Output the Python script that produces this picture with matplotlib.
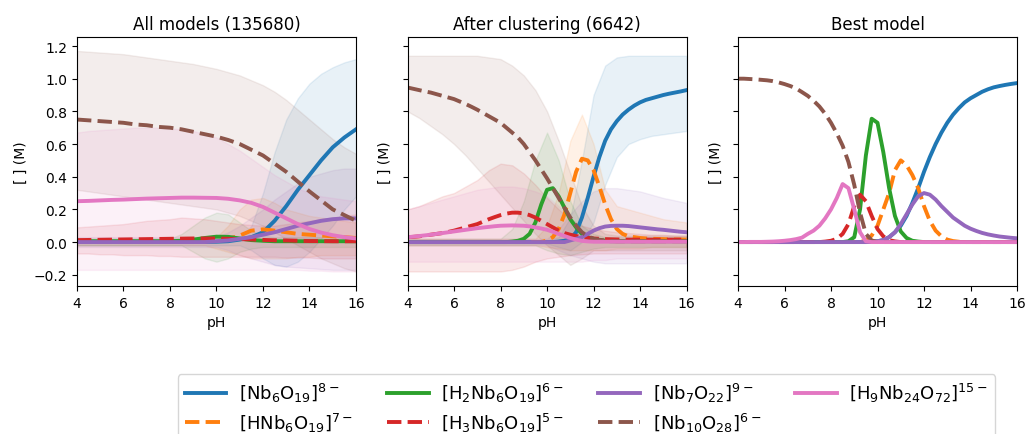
import numpy as np
import matplotlib
matplotlib.use("Agg")
import matplotlib.pyplot as plt

# ─── pH grids ────────────────────────────────────────────────────────────────
PH_COARSE = np.arange(4.0, 16.01, 0.5)    # 25 points
PH_FINE = np.arange(4.0, 16.01, 0.25)     # 49 points

SPECIES = [
    r"$[\mathrm{Nb_6O_{19}}]^{8-}$",
    r"$[\mathrm{HNb_6O_{19}}]^{7-}$",
    r"$[\mathrm{H_2Nb_6O_{19}}]^{6-}$",
    r"$[\mathrm{H_3Nb_6O_{19}}]^{5-}$",
    r"$[\mathrm{Nb_7O_{22}}]^{9-}$",
    r"$[\mathrm{Nb_{10}O_{28}}]^{6-}$",
    r"$[\mathrm{H_9Nb_{24}O_{72}}]^{15-}$",
]
TITLES = ["All models (135680)", "After clustering (6642)", "Best model"]

# ─── All models: mean and spread (coarse grid) ───────────────────────────────
ALL_NB6 = [0, 0, 0, 0, 0, 0, 0, 0, 0, 0, 0, 0.001, 0.002, 0.005, 0.015, 0.03, 0.06,
           0.13, 0.22, 0.32, 0.41, 0.5, 0.58, 0.64, 0.69]
ALL_NB6_LO = [-0.02] * 15 + [-0.05, -0.1, -0.14, -0.15, -0.12, -0.06, 0.02, 0.1, 0.2, 0.28]
ALL_NB6_HI = [0.02] * 15 + [0.1, 0.3, 0.55, 0.75, 0.88, 0.97, 1.03, 1.07, 1.1, 1.12]

ALL_HNB6 = [0, 0, 0, 0, 0, 0, 0, 0, 0, 0, 0.002, 0.005, 0.01, 0.02, 0.04, 0.07, 0.078,
            0.07, 0.06, 0.05, 0.045, 0.04, 0.035, 0.03, 0.025]
ALL_HNB6_LO = [-0.02] * 12 + [-0.04, -0.06, -0.08, -0.1, -0.1, -0.1, -0.1, -0.09, -0.09,
                              -0.08, -0.08, -0.08, -0.08]
ALL_HNB6_HI = [0.01] * 11 + [0.02, 0.03, 0.1, 0.2, 0.26, 0.27, 0.24, 0.2, 0.18, 0.16,
                             0.15, 0.14, 0.13, 0.12]

ALL_H2NB6 = [0.005] * 9 + [0.008, 0.015, 0.025, 0.033, 0.032, 0.022, 0.012, 0.008,
                           0.005, 0.005, 0.005, 0.005, 0.005, 0.005, 0.005, 0.005]
ALL_H2NB6_LO = [-0.02] * 10 + [-0.06, -0.1, -0.12, -0.1, -0.06, -0.04, -0.03, -0.03,
                               -0.03, -0.03, -0.03, -0.03, -0.03, -0.03, -0.03]
ALL_H2NB6_HI = [0.02] * 9 + [0.05, 0.1, 0.15, 0.18, 0.17, 0.12, 0.07, 0.04, 0.03, 0.03,
                             0.03, 0.03, 0.03, 0.03, 0.03, 0.03]

ALL_H3NB6 = [0.012, 0.013, 0.014, 0.015, 0.016, 0.017, 0.018, 0.019, 0.02, 0.021, 0.022,
             0.022, 0.022, 0.02, 0.018, 0.016, 0.013, 0.011, 0.01, 0.008, 0.006, 0.006,
             0.005, 0.005, 0.005]
ALL_H3NB6_LO = [-0.07, -0.07, -0.075, -0.075, -0.08, -0.08, -0.08, -0.085, -0.085, -0.09,
                -0.09, -0.09, -0.09, -0.09, -0.09, -0.09, -0.09, -0.09, -0.095, -0.095,
                -0.095, -0.1, -0.1, -0.1, -0.1]
ALL_H3NB6_HI = [0.09, 0.095, 0.1, 0.105, 0.11, 0.12, 0.13, 0.135, 0.14, 0.15, 0.145, 0.14,
                0.13, 0.12, 0.11, 0.105, 0.1, 0.1, 0.11, 0.12, 0.13, 0.14, 0.15, 0.16, 0.17]

ALL_NB7 = [0] * 12 + [0.005, 0.01, 0.02, 0.03, 0.045, 0.06, 0.08, 0.1, 0.115, 0.13, 0.14,
                      0.145, 0.145]
ALL_NB7_LO = [-0.03] * 13 + [-0.05, -0.08, -0.1, -0.12, -0.14, -0.15, -0.155, -0.16,
                             -0.165, -0.17, -0.17, -0.17]
ALL_NB7_HI = [0.03] * 13 + [0.06, 0.1, 0.15, 0.2, 0.26, 0.31, 0.36, 0.4, 0.42, 0.44,
                            0.45, 0.45]

ALL_NB10 = [0.75, 0.745, 0.74, 0.735, 0.73, 0.72, 0.715, 0.705, 0.7, 0.69, 0.675, 0.66,
            0.645, 0.625, 0.6, 0.565, 0.53, 0.48, 0.43, 0.37, 0.31, 0.255, 0.2, 0.165, 0.13]
ALL_NB10_LO = [0.32, 0.31, 0.3, 0.29, 0.28, 0.27, 0.26, 0.25, 0.24, 0.23, 0.22, 0.21,
               0.2, 0.18, 0.16, 0.13, 0.1, 0.06, 0.02, -0.02, -0.06, -0.1, -0.13, -0.16,
               -0.18]
ALL_NB10_HI = [1.17, 1.165, 1.16, 1.155, 1.15, 1.14, 1.13, 1.12, 1.11, 1.1, 1.09, 1.075,
               1.06, 1.04, 1.02, 0.99, 0.96, 0.92, 0.87, 0.81, 0.75, 0.69, 0.63, 0.58, 0.54]

ALL_H9NB24 = [0.25, 0.252, 0.255, 0.258, 0.26, 0.263, 0.266, 0.268, 0.27, 0.272, 0.272,
              0.271, 0.27, 0.265, 0.255, 0.24, 0.215, 0.18, 0.145, 0.11, 0.08, 0.058,
              0.042, 0.03, 0.022]
ALL_H9NB24_LO = [-0.17] * 20 + [-0.175, -0.175, -0.18, -0.18, -0.18]
ALL_H9NB24_HI = [0.67, 0.68, 0.685, 0.69, 0.695, 0.7, 0.7, 0.7, 0.695, 0.69, 0.68, 0.66,
                 0.64, 0.6, 0.56, 0.51, 0.46, 0.41, 0.37, 0.33, 0.3, 0.28, 0.27, 0.26, 0.25]

# ─── After clustering: mean (fine grid), spread (coarse grid) ────────────────
CL_NB6 = [0] * 26 + [0.003, 0.008, 0.02, 0.06, 0.15, 0.27, 0.4, 0.52, 0.62, 0.69, 0.74,
                     0.78, 0.81, 0.835, 0.855, 0.87, 0.88, 0.89, 0.9, 0.908, 0.915, 0.922,
                     0.93]
CL_NB6_LO = [-0.01] * 13 + [-0.03, -0.05, 0.0, 0.12, 0.35, 0.52, 0.6, 0.63, 0.65, 0.66,
                            0.67, 0.68]
CL_NB6_HI = [0.01] * 13 + [0.03, 0.15, 0.5, 0.9, 1.08, 1.13, 1.14, 1.14, 1.14, 1.14,
                           1.14, 1.14]

CL_HNB6 = [0] * 24 + [0.01, 0.03, 0.08, 0.17, 0.3, 0.43, 0.51, 0.5, 0.44, 0.34, 0.23,
                      0.14, 0.08, 0.05, 0.035, 0.03, 0.025, 0.022, 0.02, 0.019, 0.018,
                      0.017, 0.016, 0.016, 0.015]
CL_HNB6_LO = [-0.02] * 12 + [-0.03, -0.04, -0.05, -0.05, -0.05, -0.05, -0.04, -0.04,
                             -0.04, -0.03, -0.03, -0.03, -0.03]
CL_HNB6_HI = [0.02] * 12 + [0.1, 0.3, 0.62, 0.78, 0.6, 0.32, 0.22, 0.2, 0.18, 0.16, 0.14,
                            0.13, 0.12]

CL_H2NB6 = [0] * 18 + [0.003, 0.008, 0.02, 0.05, 0.12, 0.23, 0.32, 0.33, 0.28, 0.21,
                       0.14, 0.09, 0.05, 0.03, 0.02, 0.012, 0.008] + [0.005] * 14
CL_H2NB6_LO = [-0.02] * 12 + [-0.05, -0.07, -0.08, -0.06, -0.04, -0.03, -0.03, -0.03,
                              -0.03, -0.03, -0.03, -0.03, -0.03]
CL_H2NB6_HI = [0.02] * 9 + [0.08, 0.25, 0.5, 0.67, 0.5, 0.25, 0.1, 0.05, 0.03, 0.03,
                            0.03, 0.03, 0.03, 0.03, 0.03, 0.03]

CL_H3NB6 = [0.03, 0.032, 0.035, 0.04, 0.045, 0.05, 0.055, 0.062, 0.07, 0.08, 0.09, 0.1,
            0.11, 0.125, 0.14, 0.153, 0.165, 0.174, 0.18, 0.18, 0.175, 0.165, 0.15, 0.13,
            0.11, 0.09, 0.07, 0.055, 0.045, 0.037, 0.03, 0.026, 0.022, 0.02, 0.018,
            0.017, 0.016] + [0.015] * 12
CL_H3NB6_LO = [-0.18] * 9 + [-0.17, -0.15, -0.12, -0.1, -0.09, -0.08, -0.075, -0.07,
                             -0.07, -0.07, -0.07, -0.07, -0.07, -0.07, -0.07, -0.07]
CL_H3NB6_HI = [0.2, 0.22, 0.25, 0.28, 0.3, 0.34, 0.38, 0.44, 0.48, 0.47, 0.42, 0.35,
               0.27, 0.2, 0.14, 0.1, 0.08, 0.07, 0.06, 0.055, 0.05, 0.045, 0.045, 0.04,
               0.04]

CL_NB7 = [0] * 28 + [0.01, 0.02, 0.03, 0.05, 0.07, 0.085, 0.095, 0.099, 0.1, 0.1, 0.098,
                     0.094, 0.09, 0.086, 0.082, 0.078, 0.075, 0.071, 0.067, 0.063, 0.06]
CL_NB7_LO = [-0.02] * 13 + [-0.05, -0.08, -0.1, -0.12, -0.13, -0.13, -0.13, -0.13,
                            -0.13, -0.13, -0.13, -0.13]
CL_NB7_HI = [0.02] * 13 + [0.08, 0.17, 0.25, 0.31, 0.33, 0.33, 0.32, 0.31, 0.29, 0.27,
                           0.255, 0.24]

CL_NB10 = [0.946, 0.938, 0.93, 0.922, 0.915, 0.905, 0.895, 0.885, 0.875, 0.86, 0.845,
           0.828, 0.81, 0.79, 0.77, 0.75, 0.73, 0.7, 0.67, 0.64, 0.6, 0.55, 0.5, 0.445,
           0.39, 0.33, 0.27, 0.21, 0.15, 0.1, 0.06, 0.035, 0.02, 0.014, 0.01, 0.007] \
          + [0.005] * 13
CL_NB10_LO = [0.8, 0.76, 0.71, 0.66, 0.6, 0.53, 0.45, 0.37, 0.29, 0.21, 0.13, 0.05, -0.02,
              -0.08, -0.14, -0.1, -0.05, -0.05, -0.05, -0.05, -0.05, -0.05, -0.05, -0.05,
              -0.05]
CL_NB10_HI = [1.14, 1.14, 1.14, 1.14, 1.14, 1.14, 1.14, 1.13, 1.12, 1.08, 1.02, 0.93,
              0.8, 0.62, 0.42, 0.22, 0.1, 0.05, 0.04, 0.04, 0.04, 0.04, 0.04, 0.04, 0.04]

CL_H9NB24 = [0.03, 0.033, 0.037, 0.041, 0.045, 0.05, 0.055, 0.06, 0.065, 0.07, 0.075,
             0.08, 0.085, 0.089, 0.093, 0.097, 0.1, 0.101, 0.102, 0.101, 0.1, 0.096, 0.09,
             0.083, 0.075, 0.063, 0.05, 0.037, 0.025, 0.015, 0.007, 0.004] + [0.002] * 17
CL_H9NB24_LO = [-0.12] * 16 + [-0.11, -0.11, -0.1, -0.1, -0.1, -0.1, -0.1, -0.1, -0.1]
CL_H9NB24_HI = [0.2, 0.22, 0.24, 0.26, 0.28, 0.3, 0.32, 0.33, 0.34, 0.34, 0.33, 0.31,
                0.28, 0.22, 0.15, 0.07, 0.03, 0.02, 0.02, 0.02, 0.02, 0.02, 0.02, 0.02,
                0.02]

# ─── Best model (single curve per species, fine grid) ────────────────────────
BEST_NB6 = [0] * 23 + [0.002, 0.005, 0.012, 0.03, 0.06, 0.1, 0.16, 0.24, 0.33, 0.43,
                       0.52, 0.6, 0.67, 0.73, 0.78, 0.82, 0.855, 0.88, 0.9, 0.92, 0.935,
                       0.947, 0.955, 0.962, 0.968, 0.973]
BEST_HNB6 = [0] * 22 + [0.01, 0.04, 0.1, 0.2, 0.3, 0.44, 0.5, 0.47, 0.41, 0.33, 0.22,
                        0.13, 0.07, 0.035, 0.015, 0.006, 0.002] + [0] * 10
BEST_H2NB6 = [0] * 19 + [0.005, 0.03, 0.2, 0.53, 0.755, 0.73, 0.55, 0.33, 0.16, 0.065,
                         0.025, 0.008, 0.003] + [0] * 17
BEST_H3NB6 = [0] * 15 + [0.003, 0.008, 0.02, 0.05, 0.11, 0.22, 0.29, 0.25, 0.16, 0.08,
                         0.035, 0.012, 0.004] + [0] * 21
BEST_NB7 = [0] * 23 + [0.002, 0.005, 0.012, 0.03, 0.06, 0.11, 0.17, 0.23, 0.28, 0.3,
                       0.29, 0.26, 0.22, 0.185, 0.15, 0.125, 0.1, 0.082, 0.068, 0.056,
                       0.047, 0.04, 0.034, 0.03, 0.026, 0.023]
BEST_NB10 = [1.0, 1.0, 0.998, 0.996, 0.993, 0.99, 0.985, 0.977, 0.967, 0.955, 0.94,
             0.918, 0.895, 0.865, 0.83, 0.785, 0.73, 0.665, 0.59, 0.49, 0.35, 0.18, 0.05,
             0.01] + [0] * 25
BEST_H9NB24 = [0, 0, 0.001, 0.001, 0.001, 0.002, 0.003, 0.005, 0.008, 0.012, 0.018,
               0.027, 0.05, 0.07, 0.1, 0.145, 0.2, 0.27, 0.355, 0.33, 0.2, 0.06, 0.005] \
              + [0] * 26

COLORS = ["tab:blue", "tab:orange", "tab:green", "tab:red",
          "tab:purple", "tab:brown", "tab:pink"]
STYLES = ["-", "--", "-", "--", "-", "--", "-"]

ALL_MEAN = [ALL_NB6, ALL_HNB6, ALL_H2NB6, ALL_H3NB6, ALL_NB7, ALL_NB10, ALL_H9NB24]
ALL_LO = [ALL_NB6_LO, ALL_HNB6_LO, ALL_H2NB6_LO, ALL_H3NB6_LO, ALL_NB7_LO, ALL_NB10_LO,
          ALL_H9NB24_LO]
ALL_HI = [ALL_NB6_HI, ALL_HNB6_HI, ALL_H2NB6_HI, ALL_H3NB6_HI, ALL_NB7_HI, ALL_NB10_HI,
          ALL_H9NB24_HI]
CL_MEAN = [CL_NB6, CL_HNB6, CL_H2NB6, CL_H3NB6, CL_NB7, CL_NB10, CL_H9NB24]
CL_LO = [CL_NB6_LO, CL_HNB6_LO, CL_H2NB6_LO, CL_H3NB6_LO, CL_NB7_LO, CL_NB10_LO,
         CL_H9NB24_LO]
CL_HI = [CL_NB6_HI, CL_HNB6_HI, CL_H2NB6_HI, CL_H3NB6_HI, CL_NB7_HI, CL_NB10_HI,
         CL_H9NB24_HI]
BEST = [BEST_NB6, BEST_HNB6, BEST_H2NB6, BEST_H3NB6, BEST_NB7, BEST_NB10, BEST_H9NB24]

LW = 2.8

fig = plt.figure(figsize=(10.25, 4.35), dpi=100)
lefts = [0.0751, 0.3976, 0.72]
axes = [fig.add_axes([l, 0.3402, 0.2722, 0.5724]) for l in lefts]

# ensemble panels: shaded spread first, mean curves on top
panels = [(axes[0], PH_COARSE, ALL_MEAN, ALL_LO, ALL_HI),
          (axes[1], PH_FINE, CL_MEAN, CL_LO, CL_HI)]
for ax, ph_mean, means, los, his in panels:
    for k in range(len(SPECIES)):
        ax.fill_between(PH_COARSE, los[k], his[k], color=COLORS[k], alpha=0.1, lw=1)
    for k in range(len(SPECIES)):
        ax.plot(ph_mean, means[k], color=COLORS[k], ls=STYLES[k], lw=LW,
                label=SPECIES[k])

handles = []
for k in range(len(SPECIES)):
    h, = axes[2].plot(PH_FINE, BEST[k], color=COLORS[k], ls=STYLES[k], lw=LW,
                      label=SPECIES[k])
    handles.append(h)

for i, ax in enumerate(axes):
    ax.set_xlim(4, 16)
    ax.set_ylim(-0.269, 1.255)
    ax.set_xticks(np.arange(4, 17, 2))
    ax.set_yticks(np.arange(-0.2, 1.21, 0.2))
    if i > 0:
        ax.set_yticklabels([])
    ax.tick_params(labelsize=10)
    ax.set_xlabel("pH", fontsize=10)
    ax.set_ylabel("[ ] (M)", fontsize=10)
    ax.set_title(TITLES[i], fontsize=12)

fig.legend(handles, SPECIES, loc="upper right", bbox_to_anchor=(0.971, 0.138),
           borderaxespad=0, ncol=4, fontsize=13, handlelength=2.3,
           handletextpad=0.7, columnspacing=1.9, labelspacing=0.35)

fig.savefig("out.png", dpi=100)
